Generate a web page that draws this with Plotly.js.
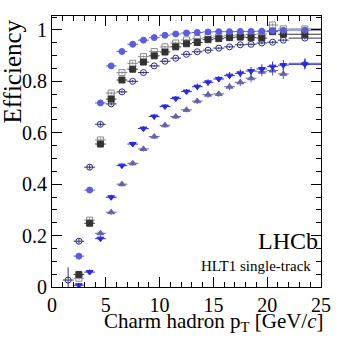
<!DOCTYPE html>
<html>
<head>
<meta charset="utf-8">
<script src="https://cdn.plot.ly/plotly-3.0.1.min.js"></script>
<style>
  html, body { margin: 0; padding: 0; background: #fff; }
  #grafica { width: 349px; height: 338px; }
</style>
</head>
<body>
<div id="grafica"></div>
<script>
// Bordes de los bins en pT [GeV/c]
const bordesBins = [1, 2, 3, 4, 5, 6, 7, 8, 9, 10, 11, 12, 13, 14, 15, 16, 17, 18, 19, 20, 21, 22, 25];

// Eficiencias por bin (null = sin punto)
const circulosLlenos = [null, 0.120, 0.377, 0.716, 0.860, 0.916, 0.944, 0.960, 0.970, 0.979, 0.984, 0.988, 0.990, 0.992, 0.993, 0.993, 0.994, 0.994, 0.995, 0.997, 0.998, 0.999];
const cuadradosAbiertos = [null, 0.034, 0.260, 0.572, 0.754, 0.834, 0.870, 0.896, 0.916, 0.934, 0.949, 0.961, 0.966, 0.970, 0.975, 0.978, 0.980, 0.982, 0.984, 1.019, 1.004, 1.004];
const cuadradosLlenos = [null, 0.049, 0.248, 0.556, 0.731, 0.805, 0.847, 0.875, 0.899, 0.914, 0.934, 0.946, 0.951, 0.962, 0.966, 0.970, 0.972, 0.970, 0.968, 0.993, 0.983, 0.983];
const circulosAbiertos = [0.027, 0.178, 0.466, 0.633, 0.712, 0.759, 0.800, 0.834, 0.860, 0.878, 0.890, 0.905, 0.915, 0.921, 0.929, 0.934, 0.942, 0.944, 0.949, 0.952, 0.960, 0.968];
const triangulosAbajo = [null, 0.007, 0.058, 0.188, 0.349, 0.472, 0.556, 0.616, 0.663, 0.702, 0.733, 0.760, 0.779, 0.796, 0.809, 0.822, 0.831, 0.840, 0.848, 0.857, 0.863, 0.866];
const triangulosArriba = [null, null, null, 0.209, 0.291, 0.400, 0.481, 0.537, 0.585, 0.629, 0.663, 0.689, 0.723, 0.748, 0.751, 0.779, 0.796, 0.812, 0.837, 0.842, 0.829, 0.870];

// Incertidumbres aproximadas
const errCirculosAbiertos = [0.05, 0.01, 0.01, 0.008, 0.006, 0.005, 0.005, 0.004, 0.004, 0.004, 0.004, 0.004, 0.004, 0.004, 0.004, 0.004, 0.004, 0.004, 0.005, 0.005, 0.005, 0.005];
const errTriangulos = [0, 0.01, 0.01, 0.01, 0.01, 0.01, 0.01, 0.01, 0.01, 0.01, 0.01, 0.01, 0.012, 0.012, 0.012, 0.014, 0.015, 0.016, 0.018, 0.02, 0.02, 0.02];
const errPequeno = [0, 0.006, 0.008, 0.008, 0.006, 0.005, 0.005, 0.004, 0.004, 0.004, 0.004, 0.004, 0.004, 0.004, 0.004, 0.004, 0.004, 0.005, 0.005, 0.006, 0.006, 0.006];

const centros = [];
const semiAnchos = [];
for (let i = 0; i < bordesBins.length - 1; i++) {
    centros.push((bordesBins[i] + bordesBins[i + 1]) / 2);
    semiAnchos.push((bordesBins[i + 1] - bordesBins[i]) / 2);
}

function crearSerie(valores, errores, simbolo, color, nombre) {
    return {
        x: centros,
        y: valores,
        type: 'scatter',
        mode: 'markers',
        name: nombre,
        marker: {
            symbol: simbolo,
            color: color,
            size: 6,
            line: { color: color, width: 1 }
        },
        error_x: { type: 'data', array: semiAnchos, color: color, thickness: 1, width: 0 },
        error_y: { type: 'data', array: errores, color: color, thickness: 1, width: 0 },
        cliponaxis: true
    };
}

const trazas = [
    crearSerie(circulosAbiertos, errCirculosAbiertos, 'circle-open', '#2e2e78', 'open circles'),
    crearSerie(cuadradosAbiertos, errPequeno, 'square-open', '#8a8a8a', 'open squares'),
    crearSerie(cuadradosLlenos, errPequeno, 'square', '#333333', 'filled squares'),
    crearSerie(triangulosArriba, errTriangulos, 'triangle-up', '#6464aa', 'up triangles'),
    crearSerie(triangulosAbajo, errTriangulos, 'triangle-down', '#2a2ae0', 'down triangles'),
    crearSerie(circulosLlenos, errPequeno, 'circle', '#5c5cdc', 'filled circles')
];

const fuente = { family: 'Liberation Serif, Times New Roman, serif', color: '#000' };

const ejeComun = {
    ticks: 'inside',
    mirror: 'allticks',
    showline: true,
    linecolor: '#000',
    linewidth: 1,
    tickcolor: '#000',
    tickwidth: 1,
    ticklen: 10,
    showgrid: false,
    zeroline: false,
    tickfont: Object.assign({ size: 20 }, fuente)
};

const layout = {
    width: 349,
    height: 338,
    margin: { l: 52, r: 28, t: 16, b: 51 },
    paper_bgcolor: '#fff',
    plot_bgcolor: '#fff',
    showlegend: false,
    font: fuente,
    xaxis: Object.assign({}, ejeComun, {
        range: [0, 25],
        dtick: 5,
        tick0: 0,
        minor: { dtick: 1, ticks: 'inside', ticklen: 5, tickcolor: '#000' }
    }),
    yaxis: Object.assign({}, ejeComun, {
        range: [0, 1.054],
        dtick: 0.2,
        tick0: 0,
        minor: { dtick: 0.05, ticks: 'inside', ticklen: 5, tickcolor: '#000' }
    }),
    annotations: [
        {
            text: 'Charm hadron p<sub>T</sub> [GeV/<i>c</i>]',
            xref: 'paper', yref: 'paper',
            x: 1.017, y: -0.129,
            xanchor: 'right', yanchor: 'middle',
            showarrow: false,
            font: Object.assign({ size: 21 }, fuente)
        },
        {
            text: 'Efficiency',
            xref: 'paper', yref: 'paper',
            x: -0.145, y: 0.795,
            xanchor: 'center', yanchor: 'middle',
            textangle: -90,
            showarrow: false,
            font: Object.assign({ size: 25 }, fuente)
        },
        {
            text: 'LHCb',
            xref: 'paper', yref: 'paper',
            x: 0.995, y: 0.17,
            xanchor: 'right', yanchor: 'middle',
            showarrow: false,
            font: Object.assign({ size: 24 }, fuente)
        },
        {
            text: 'HLT1 single-track',
            xref: 'paper', yref: 'paper',
            x: 0.97, y: 0.077,
            xanchor: 'right', yanchor: 'middle',
            showarrow: false,
            font: Object.assign({ size: 15 }, fuente)
        }
    ]
};

Plotly.newPlot('grafica', trazas, layout, { staticPlot: true });
</script>
</body>
</html>
